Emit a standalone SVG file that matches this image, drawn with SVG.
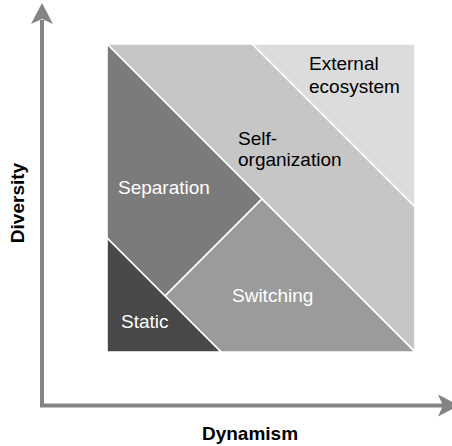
<svg xmlns="http://www.w3.org/2000/svg" width="452" height="446" viewBox="0 0 452 446">
<style>
.axis{stroke:#848484;stroke-width:4;fill:none}
.head{fill:#848484}
.reg{stroke:#ffffff;stroke-width:1.6;stroke-linejoin:miter}
.lbl{font-family:"Liberation Sans",Arial,sans-serif;font-size:19px}
.ax{font-family:"Liberation Sans",Arial,sans-serif;font-size:19px;font-weight:bold;fill:#000}
</style>
<rect width="452" height="446" fill="#ffffff"/>
<g id="connectors">
<path class="axis" d="M42,20 V405.5 H445"/>
<polygon class="head" points="42,3 53,24 42,19 31,24"/>
<polygon class="head" points="459,405.5 438,394.5 443,405.5 438,416.5"/>
</g>
<g id="external-ecosystem">
<polygon class="reg" fill="#dcdcdc" points="252,44 415,44 415,207"/>
<text class="lbl" x="309" y="70" fill="#000">External</text>
<text class="lbl" x="309" y="93" fill="#000">ecosystem</text>
</g>
<g id="self-organization">
<polygon class="reg" fill="#c6c6c6" points="107,44 252,44 415,207 415,352"/>
<text class="lbl" x="238" y="145" fill="#000">Self-</text>
<text class="lbl" x="238" y="166" fill="#000">organization</text>
</g>
<g id="separation">
<polygon class="reg" fill="#7b7b7b" points="107,44 262,199 165,296 107,238"/>
<text class="lbl" x="118" y="194" fill="#fff">Separation</text>
</g>
<g id="switching">
<polygon class="reg" fill="#9b9b9b" points="262,199 415,352 221,352 165,296"/>
<text class="lbl" x="232" y="302" fill="#fff">Switching</text>
</g>
<g id="static">
<polygon class="reg" fill="#484848" points="107,238 107,352 221,352 165,296"/>
<text class="lbl" x="121" y="328" fill="#fff">Static</text>
</g>
<g id="axis-labels">
<text class="ax" x="250" y="440" text-anchor="middle">Dynamism</text>
<text class="ax" transform="translate(24,203) rotate(-90)" text-anchor="middle">Diversity</text>
</g>
</svg>
